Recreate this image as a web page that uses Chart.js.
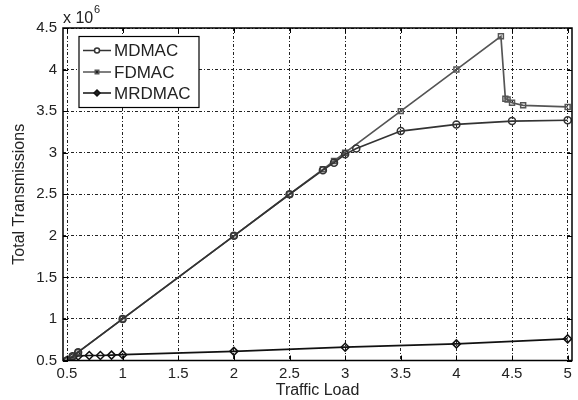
<!DOCTYPE html>
<html>
<head>
<meta charset="utf-8">
<script src="https://cdn.jsdelivr.net/npm/chart.js@4"></script>
<style>
html,body{margin:0;padding:0;background:#fff;}
#wrap{width:578px;height:400px;position:relative;}
</style>
</head>
<body>
<div id="wrap"><canvas id="c" width="578" height="400"></canvas></div>
<script>
// Data (values in units of 10^6 transmissions)
const seriesNames = ["MDMAC", "FDMAC", "MRDMAC"];
const mdmacLoad = [0.5, 0.55, 0.6, 1, 2, 2.5, 2.8, 2.9, 3, 3.1, 3.5, 4, 4.5, 5];
const mdmacTx   = [0.5, 0.55, 0.6, 1, 2, 2.5, 2.79, 2.88, 2.98, 3.05, 3.26, 3.34, 3.38, 3.39];
const fdmacLoad = [0.5, 0.55, 0.6, 1, 2, 2.5, 2.8, 2.9, 3, 3.5, 4, 4.4, 4.44, 4.46, 4.5, 4.6, 5];
const fdmacTx   = [0.5, 0.55, 0.6, 1, 2, 2.5, 2.8, 2.9, 3.0, 3.5, 4.0, 4.4, 3.65, 3.64, 3.6, 3.57, 3.55];
const mrdmacLoad = [0.5, 0.55, 0.6, 0.7, 0.8, 0.9, 1, 2, 3, 4, 5];
const mrdmacTx   = [0.5, 0.54, 0.555, 0.56, 0.56, 0.565, 0.57, 0.61, 0.66, 0.70, 0.76];
const xTicks = [0.5, 1, 1.5, 2, 2.5, 3, 3.5, 4, 4.5, 5];
const yTicks = [0.5, 1, 1.5, 2, 2.5, 3, 3.5, 4, 4.5];

const toPts = (xs, ys) => xs.map((x, i) => ({x: x, y: ys[i]}));

const styles = [
  {color: '#333', pointStyle: 'circle', radius: 3.5},
  {color: '#555', pointStyle: 'rect', radius: 3.5},
  {color: '#111', pointStyle: 'rectRot', radius: 4}
];
const dataSets = [toPts(mdmacLoad, mdmacTx), toPts(fdmacLoad, fdmacTx), toPts(mrdmacLoad, mrdmacTx)];

const FONT = '"Liberation Sans", Arial, Helvetica, sans-serif';

const decorPlugin = {
  id: 'decor',
  afterDraw(chart) {
    const ctx = chart.ctx;
    const a = chart.chartArea;
    const xs = chart.scales.x, ys = chart.scales.y;
    ctx.save();
    // inward ticks
    ctx.strokeStyle = '#000';
    ctx.lineWidth = 1;
    ctx.setLineDash([]);
    ctx.beginPath();
    xTicks.forEach(v => {
      const px = Math.round(xs.getPixelForValue(v)) + 0.5;
      ctx.moveTo(px, a.bottom); ctx.lineTo(px, a.bottom - 5);
      ctx.moveTo(px, a.top); ctx.lineTo(px, a.top + 5);
    });
    yTicks.forEach(v => {
      const py = Math.round(ys.getPixelForValue(v)) + 0.5;
      ctx.moveTo(a.left, py); ctx.lineTo(a.left + 5, py);
      ctx.moveTo(a.right, py); ctx.lineTo(a.right - 5, py);
    });
    ctx.stroke();
    // box
    ctx.lineWidth = 1.5;
    ctx.strokeRect(a.left, a.top, a.right - a.left, a.bottom - a.top);
    // exponent label
    ctx.fillStyle = '#222';
    ctx.textBaseline = 'alphabetic';
    ctx.textAlign = 'left';
    ctx.font = '16px ' + FONT;
    ctx.fillText('x 10', 63, 23);
    ctx.font = '11px ' + FONT;
    ctx.fillText('6', 94, 13);
    // legend
    const lx = 79, ly = 36.5, lw = 120, lh = 71;
    ctx.fillStyle = '#fff';
    ctx.fillRect(lx, ly, lw, lh);
    ctx.strokeStyle = '#000';
    ctx.lineWidth = 1.2;
    ctx.strokeRect(lx, ly, lw, lh);
    const rows = [50.5, 72, 93];
    seriesNames.forEach((name, i) => {
      const y = rows[i];
      ctx.strokeStyle = styles[i].color;
      ctx.lineWidth = 1.5;
      ctx.beginPath();
      ctx.moveTo(83, y); ctx.lineTo(111, y);
      ctx.stroke();
      Chart.helpers.drawPoint(ctx, {
        pointStyle: styles[i].pointStyle, radius: i === 2 ? 3 : 2.5,
        borderWidth: 1, rotation: 0
      }, 97, y);
      ctx.fillStyle = '#222';
      ctx.font = '17px ' + FONT;
      ctx.textBaseline = 'middle';
      ctx.fillText(name, 114, y + 1);
    });
    ctx.restore();
  }
};

new Chart(document.getElementById('c'), {
  type: 'line',
  data: {
    datasets: seriesNames.map((n, i) => ({
      label: n,
      data: dataSets[i],
      borderColor: styles[i].color,
      backgroundColor: 'rgba(0,0,0,0)',
      borderWidth: 1.7,
      pointStyle: styles[i].pointStyle,
      pointRadius: styles[i].radius,
      pointBorderWidth: 1.5,
      pointBorderColor: styles[i].color,
      pointBackgroundColor: 'rgba(0,0,0,0)',
      tension: 0,
      fill: false
    }))
  },
  options: {
    responsive: false,
    animation: false,
    events: [],
    layout: {padding: {top: 28, right: 6, left: 0, bottom: 0}},
    plugins: {legend: {display: false}, tooltip: {enabled: false}},
    scales: {
      x: {
        type: 'linear',
        min: 0.464, max: 5.039,
        afterBuildTicks: s => { s.ticks = xTicks.map(v => ({value: v})); },
        afterFit: s => { s.height = 39.5; },
        grid: {color: '#222', lineWidth: 1, drawTicks: false},
        border: {display: false, dash: [3, 2, 1, 2]},
        ticks: {
          font: {size: 15, family: FONT}, color: '#222', padding: 4,
          maxRotation: 0, autoSkip: false,
          callback: v => String(v)
        },
        title: {display: true, text: 'Traffic Load', font: {size: 16, family: FONT}, color: '#222', padding: {top: 2, bottom: 0}}
      },
      y: {
        type: 'linear',
        min: 0.5, max: 4.5,
        afterBuildTicks: s => { s.ticks = yTicks.map(v => ({value: v})); },
        afterFit: s => { s.width = 63; },
        grid: {color: '#222', lineWidth: 1, drawTicks: false},
        border: {display: false, dash: [3, 2, 1, 2]},
        ticks: {
          font: {size: 15, family: FONT}, color: '#222', padding: 6,
          autoSkip: false,
          callback: v => String(v)
        },
        title: {display: true, text: 'Total Transmissions', font: {size: 16, family: FONT}, color: '#222', padding: {top: 10, bottom: 0}}
      }
    }
  },
  plugins: [decorPlugin]
});
</script>
</body>
</html>
